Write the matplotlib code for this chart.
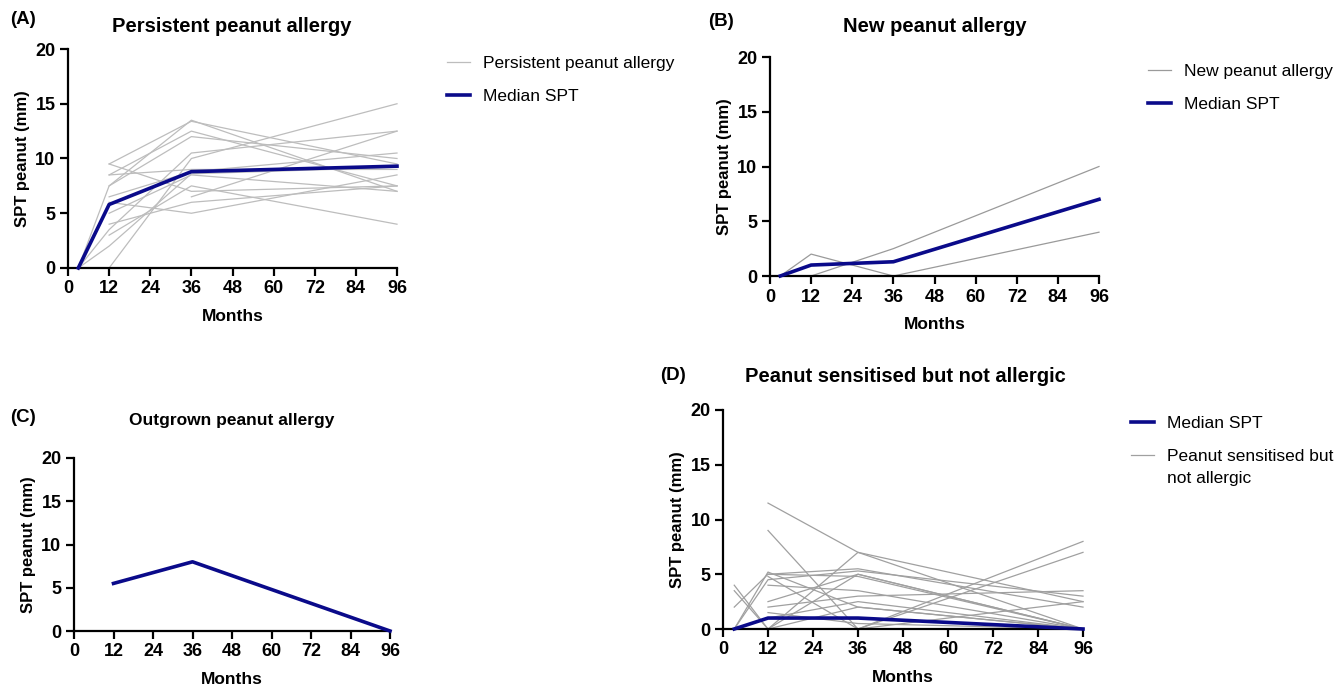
"""Peanut SPT trajectories by allergy group (four panels)."""

import numpy as np
import matplotlib.pyplot as plt
from matplotlib.lines import Line2D

plt.rcParams["font.family"] = ["Liberation Sans", "DejaVu Sans"]

nan = np.nan
months = [3, 12, 36, 96]

# (A) persistent peanut allergy: one row per child
persistent = [
    [0, 7.5, 13.5, 7.0],
    [nan, 9.5, 7.0, 7.5],
    [nan, 9.5, 13.4, 9.5],
    [nan, 8.5, 12.5, 7.5],
    [nan, 8.5, 9.0, 9.0],
    [nan, 7.5, 12.0, 10.0],
    [nan, 6.5, 8.8, 10.5],
    [nan, 6.0, 5.0, 8.5],
    [nan, 5.0, 8.5, 7.0],
    [nan, 4.0, 6.0, 7.5],
    [0, 3.5, 10.5, 12.5],
    [nan, 3.0, 7.5, 4.0],
    [nan, 0, 10.0, 15.0],
    [nan, nan, 6.5, 12.5],
    [0, 2.0, 8.6, 9.2],
]
persistent_median = [0, 5.8, 8.8, 9.3]

# (B) new peanut allergy
new_allergy = [
    [0, 2.0, 0, 4.0],
    [0, 0, 2.5, 10.0],
]
new_median = [0, 1.0, 1.3, 7.0]

# (C) outgrown peanut allergy
outgrown_median = [nan, 5.5, 8.0, 0]

# (D) sensitised but not allergic
sensitised = [
    [nan, 11.5, 7.0, 2.5],
    [nan, 9.0, 0, 8.0],
    [2.0, 5.0, 5.5, 2.0],
    [4.0, 0, 7.0, 0],
    [3.5, 0, 5.0, 0],
    [0, 5.2, 2.0, 0],
    [0, 4.5, 5.3, 3.0],
    [nan, 4.0, 3.5, 0],
    [nan, 2.5, 5.0, 0],
    [nan, 2.0, 3.0, 3.5],
    [nan, 1.0, 2.5, 0],
    [nan, 0, 2.0, 0],
    [nan, 4.8, 0, 7.0],
    [nan, 5.0, 4.8, 0],
    [nan, 0, 0, 2.5],
    [nan, 1.5, 0.5, 0],
]
sensitised_median = [0, 1.0, 1.0, 0]

NAVY = "#0a0a8a"
W, H = 1339, 687


def px_axes(fig, left, top, right, bottom):
    return fig.add_axes([left / W, 1 - bottom / H, (right - left) / W, (bottom - top) / H])


def style_axes(ax):
    ax.set_xlim(0, 96)
    ax.set_ylim(0, 20)
    ax.set_xticks(range(0, 97, 12))
    ax.set_yticks(range(0, 21, 5))
    for side in ("top", "right"):
        ax.spines[side].set_visible(False)
    for side in ("left", "bottom"):
        ax.spines[side].set_linewidth(1.6)
    ax.tick_params(width=1.6, length=6, labelsize=13, pad=3)
    for lab in ax.get_xticklabels() + ax.get_yticklabels():
        lab.set_fontweight("bold")
    ax.set_xlabel("Months", fontsize=12.5, fontweight="bold", labelpad=8)
    ax.set_ylabel("SPT peanut (mm)", fontsize=12, fontweight="bold", labelpad=4)


def draw_group(ax, rows, color, lw=0.9):
    for row in rows:
        y = np.array(row, dtype=float)
        ok = ~np.isnan(y)
        ax.plot(np.array(months)[ok], y[ok], color=color, lw=lw, clip_on=False)


def draw_median(ax, values):
    y = np.array(values, dtype=float)
    ok = ~np.isnan(y)
    ax.plot(np.array(months)[ok], y[ok], color=NAVY, lw=2.6, clip_on=False, zorder=5)


def legend(fig, x, y, handles, labels):
    fig.legend(handles, labels, loc="upper left", bbox_to_anchor=(x / W, 1 - y / H),
               frameon=False, fontsize=12.5, borderpad=0, borderaxespad=0,
               handlelength=1.35, handletextpad=0.75, labelspacing=1.0)


fig = plt.figure(figsize=(W / 100, H / 100), dpi=100)

# (A)
ax_a = px_axes(fig, 68, 49, 397, 268)
draw_group(ax_a, persistent, "#bdbdbd")
draw_median(ax_a, persistent_median)
style_axes(ax_a)
fig.text(232 / W, 1 - 27 / H, "Persistent peanut allergy", ha="center", va="center",
         fontsize=14.5, fontweight="bold")
fig.text(10 / W, 1 - 20 / H, "(A)", ha="left", va="center", fontsize=13.5, fontweight="bold")
legend(fig, 447, 56,
       [Line2D([], [], color="#bdbdbd", lw=0.9), Line2D([], [], color=NAVY, lw=2.6)],
       ["Persistent peanut allergy", "Median SPT"])

# (B)
ax_b = px_axes(fig, 770, 57, 1099, 276)
draw_group(ax_b, new_allergy, "#9a9a9a")
draw_median(ax_b, new_median)
style_axes(ax_b)
fig.text(935 / W, 1 - 27 / H, "New peanut allergy", ha="center", va="center",
         fontsize=14.5, fontweight="bold")
fig.text(708 / W, 1 - 22 / H, "(B)", ha="left", va="center", fontsize=13.5, fontweight="bold")
legend(fig, 1148, 64,
       [Line2D([], [], color="#9a9a9a", lw=0.9), Line2D([], [], color=NAVY, lw=2.6)],
       ["New peanut allergy", "Median SPT"])

# (C)
ax_c = px_axes(fig, 74, 458, 390, 631)
draw_median(ax_c, outgrown_median)
style_axes(ax_c)
fig.text(232 / W, 1 - 420 / H, "Outgrown peanut allergy", ha="center", va="center",
         fontsize=12.5, fontweight="bold")
fig.text(10 / W, 1 - 418 / H, "(C)", ha="left", va="center", fontsize=13.5, fontweight="bold")

# (D)
ax_d = px_axes(fig, 723, 410, 1083, 629)
draw_group(ax_d, sensitised, "#a0a0a0")
draw_median(ax_d, sensitised_median)
style_axes(ax_d)
fig.text(905 / W, 1 - 376 / H, "Peanut sensitised but not allergic", ha="center",
         va="center", fontsize=14.5, fontweight="bold")
fig.text(660 / W, 1 - 375 / H, "(D)", ha="left", va="center", fontsize=13.5, fontweight="bold")
legend(fig, 1131, 416,
       [Line2D([], [], color=NAVY, lw=2.6), Line2D([], [], color="#a0a0a0", lw=0.9)],
       ["Median SPT", "Peanut sensitised but"])
fig.text(1167 / W, 1 - 478 / H, "not allergic", ha="left", va="center", fontsize=12.5)

fig.savefig("out.png", dpi=100)
